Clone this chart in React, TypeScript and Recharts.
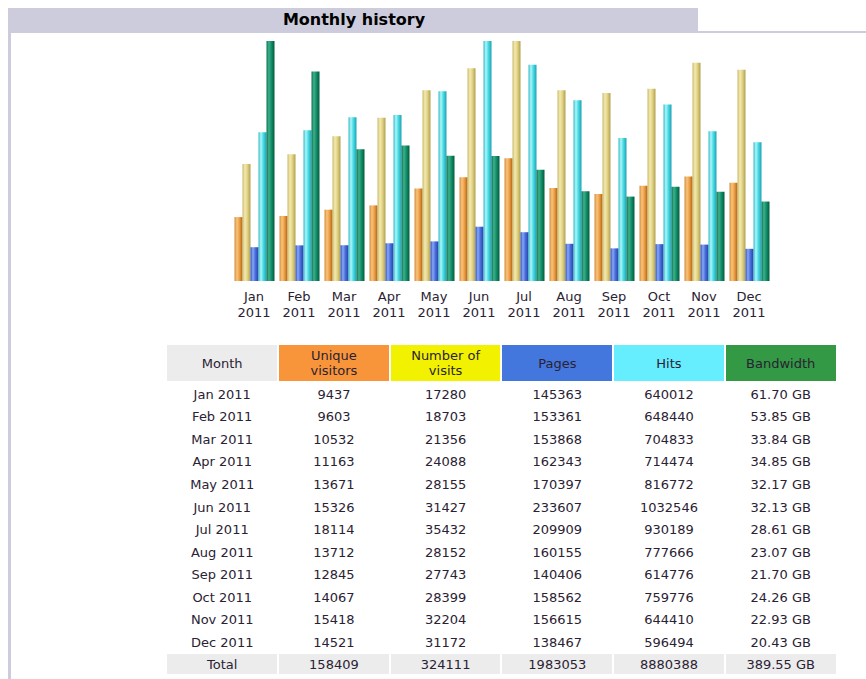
import React from 'react';
import { BarChart, Bar, XAxis, YAxis } from 'recharts';

const months = ['Jan', 'Feb', 'Mar', 'Apr', 'May', 'Jun', 'Jul', 'Aug', 'Sep', 'Oct', 'Nov', 'Dec'];
const year = '2011';
const uniqueVisitors = [9437, 9603, 10532, 11163, 13671, 15326, 18114, 13712, 12845, 14067, 15418, 14521];
const visits = [17280, 18703, 21356, 24088, 28155, 31427, 35432, 28152, 27743, 28399, 32204, 31172];
const pages = [145363, 153361, 153868, 162343, 170397, 233607, 209909, 160155, 140406, 158562, 156615, 138467];
const hits = [640012, 648440, 704833, 714474, 816772, 1032546, 930189, 777666, 614776, 759776, 644410, 596494];
const bandwidth = [61.7, 53.85, 33.84, 34.85, 32.17, 32.13, 28.61, 23.07, 21.7, 24.26, 22.93, 20.43];
const totals = ['158409', '324111', '1983053', '8880388', '389.55 GB'];

const data = months.map((m, i) => ({
    month: m,
    uniqueVisitors: uniqueVisitors[i],
    visits: visits[i],
    pages: pages[i],
    hits: hits[i],
    bandwidth: bandwidth[i],
}));

const FONT = '"DejaVu Sans", Verdana, sans-serif';
const TEXT = '#2a2233';

// cylinder-ish shading for each series: [edgeLeft, highlight, mid, edgeRight]
const shades: Record<string, string[]> = {
    gUv: ['#d08a38', '#f8c47c', '#eea048', '#b06410'],
    gVi: ['#c8b868', '#f4eab0', '#e2d486', '#b0a050'],
    gPa: ['#3050c0', '#88a8f4', '#4a70dc', '#2840a8'],
    gHi: ['#30b8c8', '#b0f6f8', '#48dce6', '#20a0b0'],
    gBw: ['#0c7050', '#40b08a', '#12906a', '#005a3c'],
};

const MonthTick = (props: any) => {
    const { x, y, payload } = props;
    return (
        <g>
            <text x={x} y={y + 20} textAnchor="middle" fontFamily={FONT} fontSize={13} fill={TEXT}>
                {payload.value}
            </text>
            <text x={x} y={y + 36} textAnchor="middle" fontFamily={FONT} fontSize={13} fill={TEXT}>
                {year}
            </text>
        </g>
    );
};

const headers = [
    { label: 'Month', bg: '#ececec' },
    { label: 'Unique\nvisitors', bg: '#f8953a' },
    { label: 'Number of\nvisits', bg: '#f2f200' },
    { label: 'Pages', bg: '#4477dd' },
    { label: 'Hits', bg: '#66eeff' },
    { label: 'Bandwidth', bg: '#339944' },
];

const cell: React.CSSProperties = {
    height: 18.55,
    padding: '2px 0 0 0',
    textAlign: 'center',
    fontFamily: FONT,
    fontSize: 13,
    color: TEXT,
};

export default function App() {
    return (
        <div style={{ position: 'absolute', left: 0, top: 0, width: 866, height: 679, background: '#fff', overflow: 'hidden' }}>
            {/* frame */}
            <div style={{ position: 'absolute', left: 10, top: 8, width: 688, height: 25, background: '#ccccdd' }} />
            <div style={{ position: 'absolute', left: 698, top: 31, width: 168, height: 2, background: '#ccccdd' }} />
            <div style={{ position: 'absolute', left: 8, top: 8, width: 3, height: 671, background: '#ccccdd' }} />
            <div style={{ position: 'absolute', left: 10, top: 9, width: 688, textAlign: 'center', fontFamily: FONT, fontWeight: 'bold', fontSize: 16, lineHeight: '22px', color: '#000' }}>
                Monthly history
            </div>

            <div style={{ position: 'absolute', left: 0, top: 0 }}>
                <BarChart
                    width={866}
                    height={330}
                    data={data}
                    margin={{ top: 41, right: 94.5, left: 231.5, bottom: 9 }}
                    barGap={0}
                    barCategoryGap={0}
                >
                    <defs>
                        {Object.entries(shades).map(([id, c]) => (
                            <linearGradient key={id} id={id} x1="0" y1="0" x2="1" y2="0">
                                <stop offset="0%" stopColor={c[0]} />
                                <stop offset="30%" stopColor={c[1]} />
                                <stop offset="60%" stopColor={c[2]} />
                                <stop offset="100%" stopColor={c[3]} />
                            </linearGradient>
                        ))}
                    </defs>
                    <XAxis dataKey="month" height={40} axisLine={false} tickLine={false} tickSize={0} tickMargin={0} tick={<MonthTick />} interval={0} />
                    <YAxis yAxisId="v" hide domain={[0, 35432]} />
                    <YAxis yAxisId="p" hide domain={[0, 1032546]} />
                    <YAxis yAxisId="b" hide domain={[0, 61.7]} />
                    <Bar yAxisId="v" dataKey="uniqueVisitors" barSize={8} fill="url(#gUv)" isAnimationActive={false} />
                    <Bar yAxisId="v" dataKey="visits" barSize={8} fill="url(#gVi)" isAnimationActive={false} />
                    <Bar yAxisId="p" dataKey="pages" barSize={8} fill="url(#gPa)" isAnimationActive={false} />
                    <Bar yAxisId="p" dataKey="hits" barSize={8} fill="url(#gHi)" isAnimationActive={false} />
                    <Bar yAxisId="b" dataKey="bandwidth" barSize={8} fill="url(#gBw)" isAnimationActive={false} />
                </BarChart>
            </div>

            <table
                style={{
                    position: 'absolute',
                    left: 165.4,
                    top: 343,
                    width: 672.2,
                    tableLayout: 'fixed',
                    borderCollapse: 'separate',
                    borderSpacing: '2.6px 2px',
                }}
            >
                <thead>
                    <tr>
                        {headers.map((h) => (
                            <td key={h.label} style={{ ...cell, height: 36, padding: 0, background: h.bg, lineHeight: '15px', whiteSpace: 'pre-line' }}>
                                {h.label}
                            </td>
                        ))}
                    </tr>
                </thead>
                <tbody>
                    {months.map((m, i) => (
                        <tr key={m}>
                            <td style={cell}>{`${m} ${year}`}</td>
                            <td style={cell}>{uniqueVisitors[i]}</td>
                            <td style={cell}>{visits[i]}</td>
                            <td style={cell}>{pages[i]}</td>
                            <td style={cell}>{hits[i]}</td>
                            <td style={cell}>{`${bandwidth[i].toFixed(2)} GB`}</td>
                        </tr>
                    ))}
                    <tr>
                        <td style={{ ...cell, background: '#ececec' }}>Total</td>
                        {totals.map((t) => (
                            <td key={t} style={{ ...cell, background: '#ececec' }}>{t}</td>
                        ))}
                    </tr>
                </tbody>
            </table>
        </div>
    );
}
